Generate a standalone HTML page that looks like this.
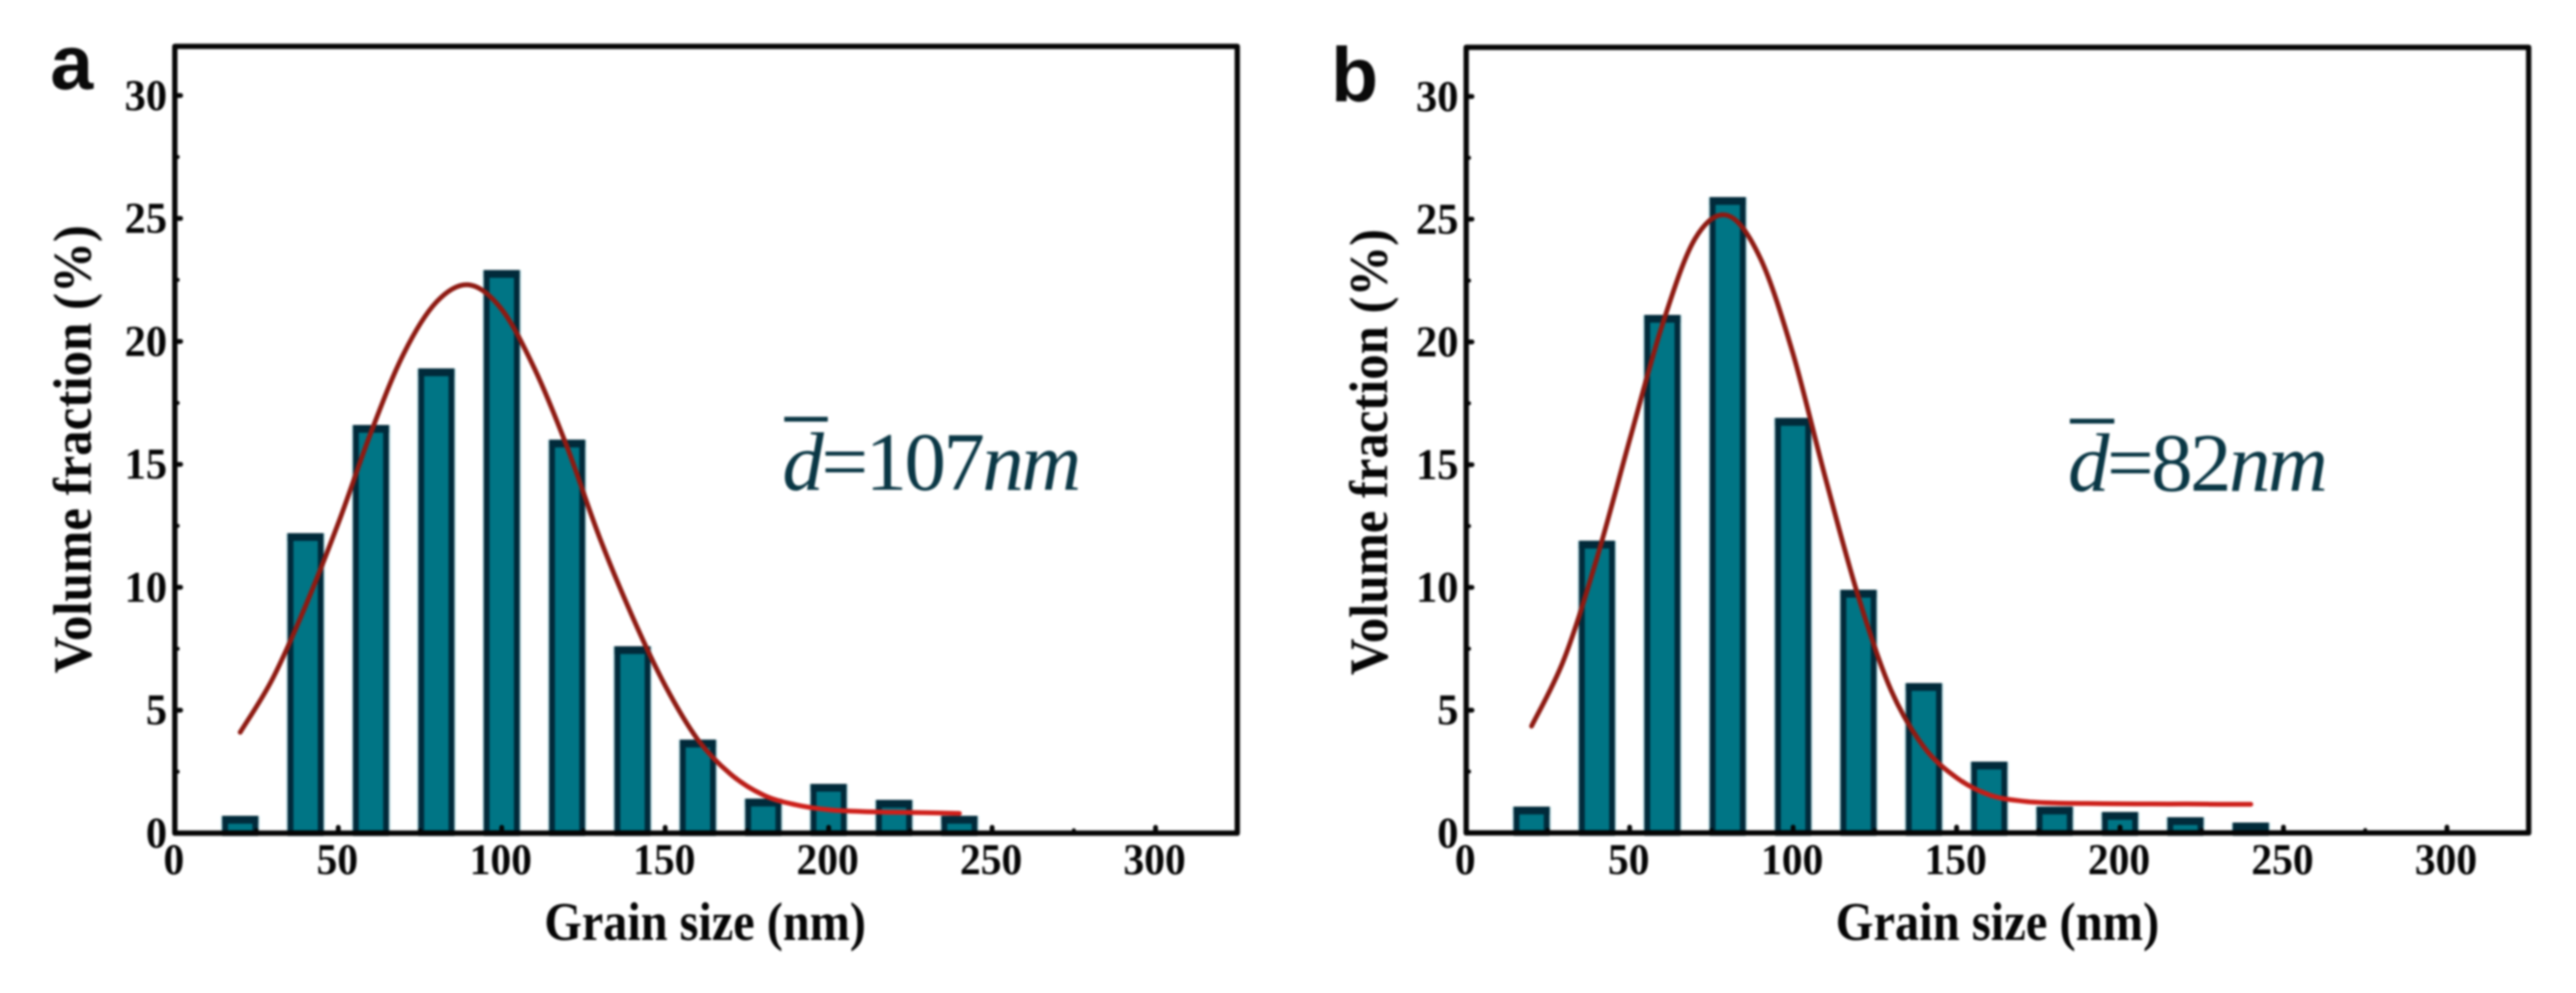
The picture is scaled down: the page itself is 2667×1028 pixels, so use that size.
<!DOCTYPE html>
<html lang="en">
<head>
<meta charset="utf-8">
<title>Grain size distributions</title>
<style>
html,body{margin:0;padding:0;background:#fff;width:2667px;height:1028px;overflow:hidden}
svg{display:block;filter:blur(1.1px)}
.tick{font-family:"Liberation Serif",serif;font-weight:700;font-size:45px;fill:#050505}
.title{font-family:"Liberation Serif",serif;font-weight:700;font-size:56px;fill:#050505}
.panel{font-family:"Liberation Sans",sans-serif;font-weight:700;font-size:80px;fill:#0a0a0a}
.note{font-family:"Liberation Serif",serif;font-size:86px;fill:#0a3745;letter-spacing:-2.7px}
</style>
</head>
<body>
<svg id="figure" width="2667" height="1028" viewBox="0 0 2667 1028" xmlns="http://www.w3.org/2000/svg">
  <defs>
    <linearGradient id="curveGrad" gradientUnits="userSpaceOnUse" x1="0" y1="760" x2="0" y2="835">
      <stop offset="0" stop-color="#8e1a12"/>
      <stop offset="1" stop-color="#cf1f1a"/>
    </linearGradient>
  </defs>
  <rect width="2667" height="1028" fill="#fff"/>
  <g id="plotA"></g>
  <g id="plotB"></g>

  <text class="panel" x="52" y="92">a</text>
  <text class="panel" x="1378" y="105">b</text>

  <text class="title" x="730" y="973" text-anchor="middle" textLength="333" lengthAdjust="spacingAndGlyphs">Grain size (nm)</text>
  <text class="title" x="2068" y="973" text-anchor="middle" textLength="335" lengthAdjust="spacingAndGlyphs">Grain size (nm)</text>
  <text class="title" transform="translate(94 465) rotate(-90)" text-anchor="middle" textLength="464" lengthAdjust="spacingAndGlyphs">Volume fraction (%)</text>
  <text class="title" transform="translate(1436 468) rotate(-90)" text-anchor="middle" textLength="462" lengthAdjust="spacingAndGlyphs">Volume fraction (%)</text>

  <text class="note" x="810" y="507"><tspan font-style="italic">d</tspan>=107<tspan font-style="italic">nm</tspan></text>
  <line x1="812" y1="434" x2="857" y2="434" stroke="#0a3745" stroke-width="5"/>
  <text class="note" x="2141" y="508"><tspan font-style="italic">d</tspan>=82<tspan font-style="italic">nm</tspan></text>
  <line x1="2143" y1="436" x2="2189" y2="436" stroke="#0a3745" stroke-width="5"/>
</svg>
<script>
const binCenters = [20, 40, 60, 80, 100, 120, 140, 160, 180, 200, 220, 240];
const fractionsA = [0.7, 12.2, 16.6, 18.9, 22.9, 16.0, 7.6, 3.8, 1.4, 2.0, 1.35, 0.7];
const fractionsB = [1.07, 11.9, 21.1, 25.9, 16.9, 9.9, 6.1, 2.9, 1.07, 0.85, 0.64, 0.42];
const fitSizes = [20, 30, 40, 50, 60, 70, 80, 90, 100, 110, 120, 130, 140, 150, 160, 170, 180, 190, 200, 210, 220, 230, 240];
const fitValuesA = [4.1, 6.3, 9.25, 12.6, 16.3, 19.5, 21.6, 22.3, 21.3, 18.9, 15.7, 12.0, 8.8, 6.0, 3.8, 2.4, 1.55, 1.15, 0.95, 0.88, 0.85, 0.83, 0.8];
const fitValuesB = [4.35, 7.1, 11.2, 16.0, 20.7, 24.2, 25.15, 23.4, 19.5, 14.4, 9.6, 5.8, 3.5, 2.25, 1.55, 1.3, 1.22, 1.2, 1.19, 1.18, 1.18, 1.17, 1.17];
const xTickLabels = [0, 50, 100, 150, 200, 250, 300];
const xMinorTicks = [25, 75, 125, 175, 225, 275];
const yTickLabels = [0, 5, 10, 15, 20, 25, 30];
const yMinorTicks = [2.5, 7.5, 12.5, 17.5, 22.5, 27.5];
const xLimit = 325;
const yLimit = 32;
const binWidth = 11;

const NS = 'http://www.w3.org/2000/svg';

function make(tag, attrs, parent) {
  const el = document.createElementNS(NS, tag);
  for (const k in attrs) el.setAttribute(k, attrs[k]);
  parent.appendChild(el);
  return el;
}

function smoothPath(pts) {
  let d = 'M' + pts[0][0].toFixed(1) + ' ' + pts[0][1].toFixed(1);
  for (let i = 0; i < pts.length - 1; i++) {
    const p0 = pts[Math.max(i - 1, 0)], p1 = pts[i], p2 = pts[i + 1], p3 = pts[Math.min(i + 2, pts.length - 1)];
    const c1x = p1[0] + (p2[0] - p0[0]) / 6, c1y = p1[1] + (p2[1] - p0[1]) / 6;
    const c2x = p2[0] - (p3[0] - p1[0]) / 6, c2y = p2[1] - (p3[1] - p1[1]) / 6;
    d += 'C' + c1x.toFixed(1) + ' ' + c1y.toFixed(1) + ' ' + c2x.toFixed(1) + ' ' + c2y.toFixed(1) + ' ' + p2[0].toFixed(1) + ' ' + p2[1].toFixed(1);
  }
  return d;
}

function drawPanel(root, box, values, fitX, fitY, xLabelOffset, yLabelRight) {
  const xScale = v => box.left + (v / xLimit) * (box.right - box.left);
  const yScale = v => box.bottom - (v / yLimit) * (box.bottom - box.top);

  binCenters.forEach((c, i) => {
    const sw = 6;
    const left = xScale(c - binWidth / 2), right = xScale(c + binWidth / 2), top = yScale(values[i]);
    const halo = make('rect', {x: left - 1.5, y: top, width: right - left + 3, height: box.bottom - top, fill: '#bfe0e6'}, root);
    
    
    const bar = make('rect', {x: left + sw / 2, y: top + sw / 2, width: right - left - sw, height: box.bottom - top - sw / 2, fill: '#007585', stroke: '#012a3a', 'stroke-width': sw}, root);
    
    
    const cap = make('rect', {x: left, y: top, width: right - left, height: Math.min(8, box.bottom - top), fill: '#012a3a'}, root);
    
    
  });

  const pts = fitX.map((x, i) => [xScale(x), yScale(fitY[i])]);
  const curve = make('path', {d: smoothPath(pts), fill: 'none', stroke: 'url(#curveGrad)', 'stroke-width': 5, 'stroke-linecap': 'round'}, root);
  
  

  const frame = make('rect', {x: box.left, y: box.top, width: box.right - box.left, height: box.bottom - box.top, fill: 'none', stroke: '#050505', 'stroke-width': 5.5, 'stroke-linejoin': 'round'}, root);
  
  

  yTickLabels.forEach(v => {
    const t = make('line', {x1: box.left, x2: box.left + 6, y1: yScale(v), y2: yScale(v), stroke: '#050505', 'stroke-width': 5, 'stroke-linecap': 'round'}, root);
    
    
    const label = String(v);
    const l = make('text', {class: 'tick', x: yLabelRight, y: yScale(v) + 15, 'text-anchor': 'end', textLength: 22 * label.length, lengthAdjust: 'spacingAndGlyphs'}, root);
    
    
    l.textContent = label;
  });
  yMinorTicks.forEach(v => {
    const t = make('line', {x1: box.left, x2: box.left + 3, y1: yScale(v), y2: yScale(v), stroke: '#050505', 'stroke-width': 4, 'stroke-linecap': 'round'}, root);
    
    
  });
  xTickLabels.forEach(v => {
    const t = make('line', {x1: xScale(v), x2: xScale(v), y1: box.bottom, y2: box.bottom - 6, stroke: '#050505', 'stroke-width': 5, 'stroke-linecap': 'round'}, root);
    
    
    const label = String(v);
    const l = make('text', {class: 'tick', x: xScale(v) + xLabelOffset, y: 905, 'text-anchor': 'middle', textLength: 21.5 * label.length, lengthAdjust: 'spacingAndGlyphs'}, root);
    
    
    l.textContent = label;
  });
  xMinorTicks.forEach(v => {
    const t = make('line', {x1: xScale(v), x2: xScale(v), y1: box.bottom, y2: box.bottom - 3, stroke: '#050505', 'stroke-width': 4, 'stroke-linecap': 'round'}, root);
    
    
  });
}

drawPanel(document.getElementById('plotA'), {left: 181, right: 1281, top: 48, bottom: 862.5}, fractionsA, fitSizes, fitValuesA, -1, 173);
drawPanel(document.getElementById('plotB'), {left: 1518, right: 2618, top: 49, bottom: 862.3}, fractionsB, fitSizes, fitValuesB, -1, 1510);
</script>
</body>
</html>
